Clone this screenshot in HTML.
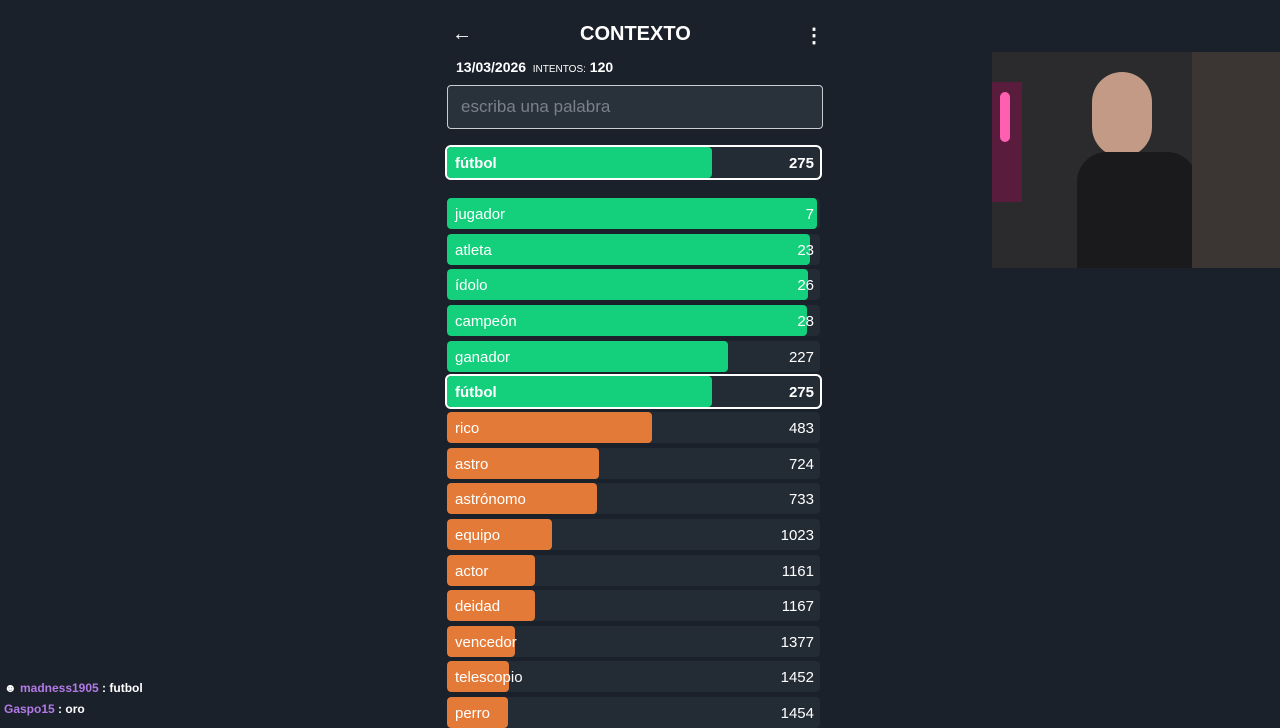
<!DOCTYPE html>
<html><head><meta charset="utf-8">
<style>
body{margin:0;width:1280px;height:720px;background:#1b212a;overflow:hidden;font-family:"Liberation Sans",sans-serif;position:relative;color:#fff}
.abs{position:absolute}
.row{position:absolute;left:447px;width:373px;height:31px;background:#232b35;border-radius:4px;overflow:hidden}
.row .fill{position:absolute;left:0;top:0;height:100%;border-radius:4px}
.row .w{position:absolute;left:8px;top:1px;line-height:31px;font-size:15px}
.row .n{position:absolute;right:6px;top:1px;line-height:31px;font-size:15px}
.hl{outline:2px solid #fff;outline-offset:0;font-weight:bold}
</style></head><body>
<div class="abs" style="left:452px;top:23px;font-size:20px">&#8592;</div>
<div class="abs" style="left:580px;top:23px;font-size:20px;font-weight:bold">CONTEXTO</div>
<div class="abs" style="left:804px;top:23px;font-size:20px;font-weight:bold">&#8942;</div>
<div class="abs" style="left:456px;top:59px;font-size:14px;font-weight:bold">13/03/2026 <span style="font-size:10px;font-weight:normal">&nbsp;INTENTOS:</span> 120</div>
<div class="abs" style="left:447px;top:85px;width:376px;height:44px;background:#29313b;border:1px solid #c9ccd0;border-radius:4px;box-sizing:border-box;color:#7a8089;font-size:17px;line-height:42px;padding-left:13px">escriba una palabra</div>
<div id="list"></div>
<div class="abs" style="left:992px;top:52px;width:288px;height:216px;background:#2b2a2c;overflow:hidden">
<div class="abs" style="left:0;top:30px;width:30px;height:120px;background:#5a1c3c"></div>
<div class="abs" style="left:8px;top:40px;width:10px;height:50px;background:#ff5fb0;border-radius:5px"></div>
<div class="abs" style="left:100px;top:20px;width:60px;height:85px;background:#c29a86;border-radius:30px"></div>
<div class="abs" style="left:85px;top:100px;width:120px;height:116px;background:#1a1a1c;border-radius:30px 30px 0 0"></div>
<div class="abs" style="left:200px;top:0;width:88px;height:216px;background:#3b3534"></div>
</div>
<div class="abs" style="left:4px;top:681px;font-size:12px;font-weight:bold">&#9787; <span style="color:#b27ae6">madness1905</span> : futbol</div>
<div class="abs" style="left:4px;top:702px;font-size:12px;font-weight:bold"><span style="color:#b27ae6">Gaspo15</span> : oro</div>
<script>
const words=["jugador","atleta","ídolo","campeón","ganador","fútbol","rico","astro","astrónomo","equipo","actor","deidad","vencedor","telescopio","perro"];
const ranks=[7,23,26,28,227,275,483,724,733,1023,1161,1167,1377,1452,1454];
const current="fútbol", currentRank=275;
const W=373,K=0.00124;
function fw(r){return W*Math.exp(-K*r);}
function color(r){return r<300?"#14cf7c":(r<1500?"#e47a38":"#e04a5a");}
function makeRow(word,rank,top,hl,name){
  const d=document.createElement('div');
  
  
  d.className='row'+(hl?' hl':'');
  d.style.top=top+'px';
  d.innerHTML='<div class="fill" style="width:'+fw(rank)+'px;background:'+color(rank)+'"></div><div class="w">'+word+'</div><div class="n">'+rank+'</div>';
  document.body.appendChild(d);
}
makeRow(current,currentRank,147,true,'last-guess-row');
words.forEach((w,i)=>makeRow(w,ranks[i],198+i*35.65,w===current,'guess-row-'+i));
</script>
</body></html>
